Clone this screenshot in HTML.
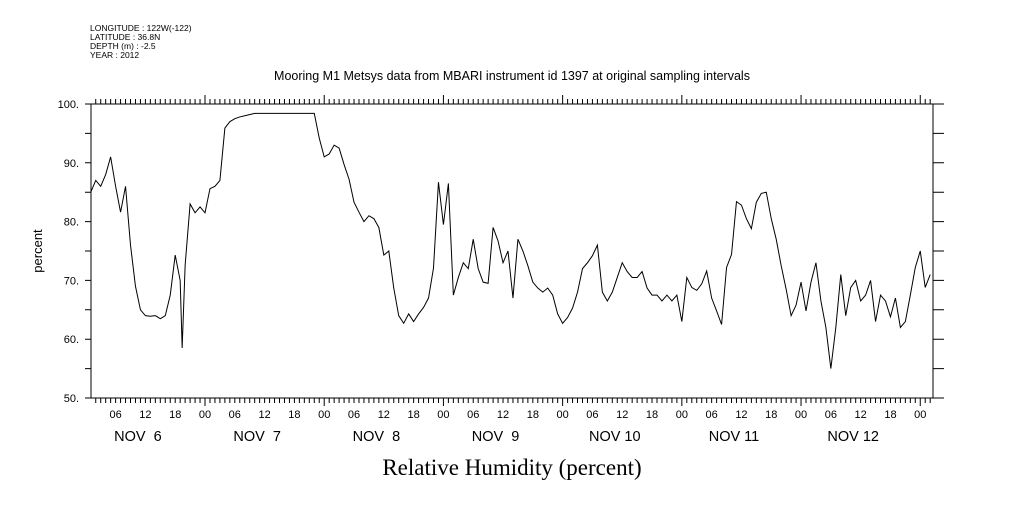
<!DOCTYPE html>
<html><head><meta charset="utf-8"><style>
body{margin:0;background:#fff}
svg text{font-family:"Liberation Sans",sans-serif;fill:#000}
</style></head><body>
<svg id="c" width="1009" height="504" viewBox="0 0 1009 504">
<g font-size="8.5">
<text x="90" y="31">LONGITUDE : 122W(-122)</text>
<text x="90" y="40">LATITUDE : 36.8N</text>
<text x="90" y="49">DEPTH (m) : -2.5</text>
<text x="90" y="58">YEAR : 2012</text>
</g>
<text x="512" y="80" font-size="12.5" text-anchor="middle">Mooring M1 Metsys data from MBARI instrument id 1397 at original sampling intervals</text>
<text x="512" y="475" font-size="23" text-anchor="middle" style="font-family:'Liberation Serif',serif">Relative Humidity (percent)</text>
<text x="0" y="0" font-size="13" text-anchor="middle" transform="translate(42,251) rotate(-90)">percent</text>
<rect x="91" y="104" width="842" height="294" fill="none" stroke="#000" stroke-width="1"/>
<g id="ax"></g>
<path id="line" fill="none" stroke="#000" stroke-width="1"/>
</svg>
<script>
const hours=[1,2,3,4,5,6,7,8,9,10,11,12,13,14,15,16,17,18,19,19.4,20,21,22,23,24,25,26,27,28,29,30,31,32,34,46,47,48,49,50,51,52,53,54,55,56,57,58,59,60,61,62,63,64,65,66,67,68,69,70,71,72,73,74,75,76,77,78,79,80,81,82,83,84,85,86,87,88,89,90,91,92,93,94,95,96,97,98,99,100,101,102,103,104,105,106,107,108,109,110,111,112,113,114,115,116,117,118,119,120,121,122,123,124,125,126,127,128,129,130,131,132,133,134,135,136,137,138,139,140,141,142,143,144,145,146,147,148,149,150,151,152,153,154,155,156,157,158,159,160,161,162,163,164,165,166,167,168,169,170];
const values=[85,87,86,88,91,86,81.6,86,76,69,65,64,63.9,64,63.5,64,67.5,74.3,70,58.5,72.6,83,81.5,82.5,81.5,85.6,86,87,95.9,97,97.5,97.8,98,98.4,98.4,94.2,91,91.5,93,92.5,89.7,87.2,83.3,81.6,80,81,80.5,79,74.3,75,68.7,64,62.7,64.3,63,64.3,65.4,67,72.1,86.7,79.5,86.5,67.5,70.5,73,72,77,72,69.7,69.5,79,76.7,73,75,67,77,75,72.5,69.7,68.7,68,68.7,67.5,64.3,62.7,63.7,65.3,68,72,73,74.2,76,68,66.5,68,70.5,73,71.5,70.5,70.5,71.5,68.7,67.5,67.5,66.5,67.5,66.5,67.5,63,70.5,68.8,68.3,69.4,71.6,67,64.8,62.5,72.2,74.4,83.4,82.8,80.5,78.8,83.3,84.8,85,80.5,77,72.5,68.5,64,65.8,69.7,64.8,69.7,73,66.5,62,55,62,71,64,68.8,70,66.5,67.5,70,63,67.5,66.5,63.8,67,62,63,67.5,72.2,75,68.8,71];
const yTicks=[50,60,70,80,90,100];
const hourLabels=["00","06","12","18"];
const dayLabels=["NOV  6","NOV  7","NOV  8","NOV  9","NOV 10","NOV 11","NOV 12"];
const X=h=>85.8+h*4.967, Y=v=>398-(v-50)*5.88;
const ns="http://www.w3.org/2000/svg", ax=document.getElementById('ax');
function mk(t,a,txt){const e=document.createElementNS(ns,t);for(const k in a)e.setAttribute(k,a[k]);if(txt!=null)e.textContent=txt;ax.appendChild(e);return e;}
let d="";
for(let h=2;h<=170;h++){const x=X(h),maj=h%24==0;
d+=`M${x},104V${maj?95:99}M${x},398V${maj?406:403}`;}
for(let v=50;v<=100;v+=5){const y=Y(v);d+=`M91,${y}H85M933,${y}H944`;}
const tk=mk('path',{d:d,stroke:'#000','stroke-width':1,fill:'none'});


yTicks.forEach(v=>{const t=mk('text',{x:79,y:Y(v)+4,'font-size':11,'text-anchor':'end'},v+".");

});
for(let h=6;h<=168;h+=6){const t=mk('text',{x:X(h),y:418,'font-size':11,'text-anchor':'middle'},hourLabels[(h/6)%4]);

}
dayLabels.forEach((s,i)=>{const t=mk('text',{x:X(i*24+10.5),y:441,'font-size':14.5,'text-anchor':'middle','xml:space':'preserve'},s);
t.style.whiteSpace='pre';

});
document.getElementById('line').setAttribute('d',hours.map((h,i)=>(i?'L':'M')+X(h)+','+Y(values[i])).join(''));
</script>
</body></html>
